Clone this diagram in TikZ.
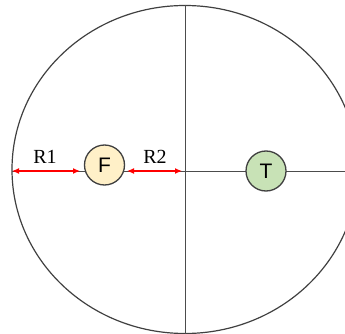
\documentclass[tikz,border=0pt]{standalone}
\usepackage{fontspec}
\setmainfont{Liberation Serif}
\newfontfamily\labelsans{Liberation Sans}
\usetikzlibrary{arrows.meta,shapes.geometric}
\definecolor{fcream}{HTML}{FFF0C8}
\definecolor{tgreen}{HTML}{C8E2B6}
\definecolor{edgegray}{HTML}{404040}
\tikzset{
  ball/.style={circle,draw=edgegray,line width=1.3pt,minimum size=40pt,inner sep=0pt,font=\labelsans\fontsize{21}{21}\selectfont},
  axis/.style={draw=black!70,line width=0.9pt},
  dim/.style={draw=red,line width=1.2pt,{Latex[length=7pt,width=6pt]}-{Latex[length=7pt,width=6pt]}},
  dimlabel/.style={font=\fontsize{20}{20}\selectfont,inner sep=0pt}
}
\begin{document}
\begin{tikzpicture}[x=1pt,y=-1pt]
\useasboundingbox (0,0) rectangle (345,334);
\clip (0,0) rectangle (345,334);
\node[ellipse,draw=edgegray,line width=1.2pt,minimum width=346pt,minimum height=328pt,inner sep=0pt] (big) at (185,169.5) {};
\coordinate (hl) at (12,171);
\coordinate (hr) at (345,171);
\coordinate (vt) at (185,5);
\coordinate (vb) at (185,334);
\draw[axis] (hl) -- (hr);
\draw[axis] (vt) -- (vb);
\node[ball,fill=fcream] (F) at (104.5,165) {F};
\node[ball,fill=tgreen] (T) at (266,171) {T};
\coordinate (a1) at (12,171);
\coordinate (a2) at (80,171);
\coordinate (b1) at (127,171);
\coordinate (b2) at (182,171);
\draw[dim] (a1) -- (a2);
\draw[dim] (b1) -- (b2);
\node[dimlabel] (r1) at (45,157) {R1};
\node[dimlabel] (r2) at (155,157) {R2};
\end{tikzpicture}
\end{document}
